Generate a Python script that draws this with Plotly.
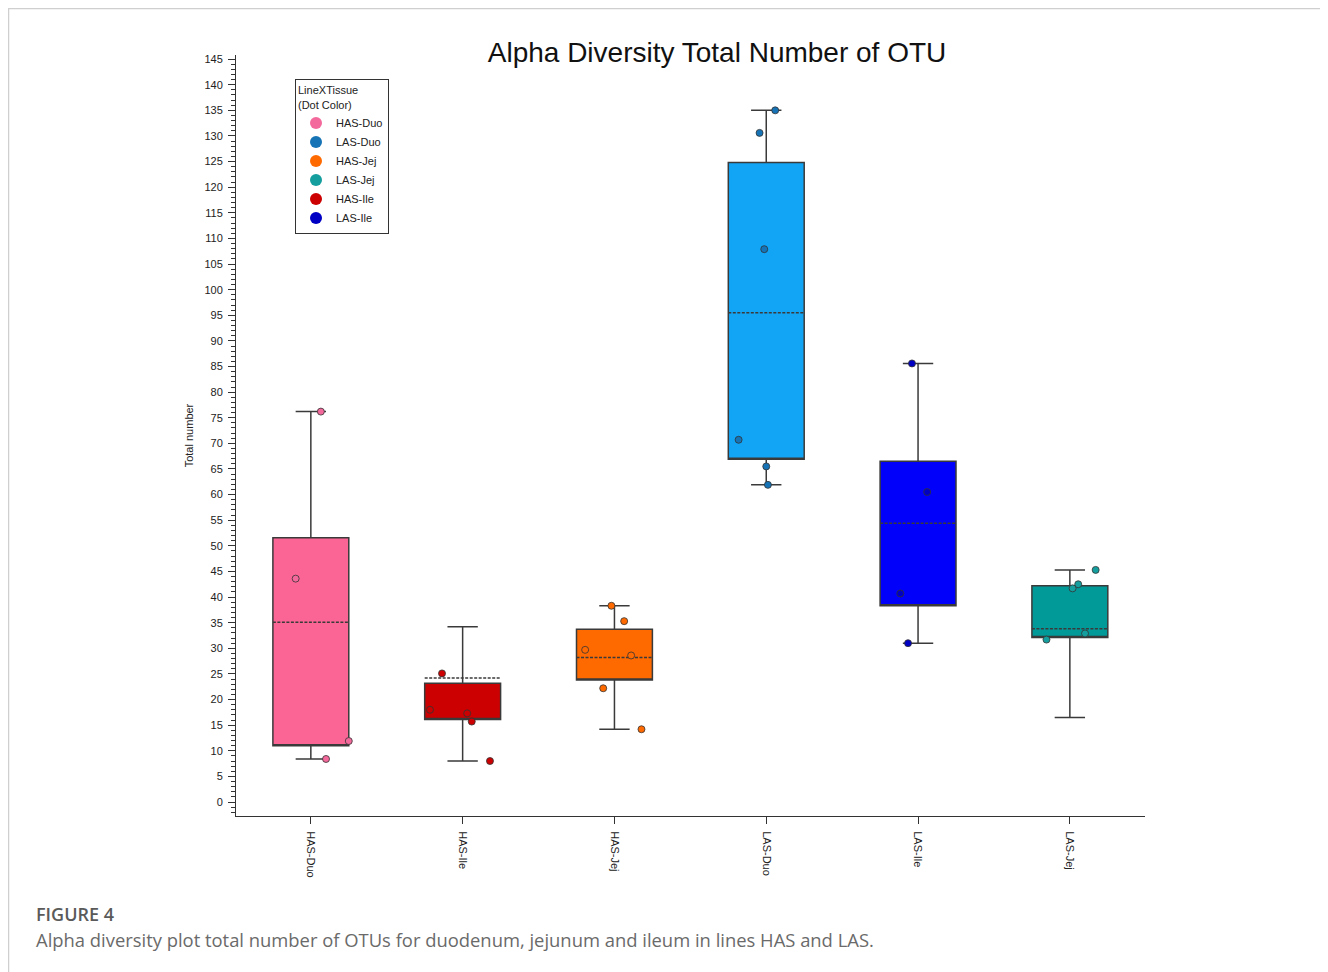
import plotly.graph_objects as go

# box statistics (dashed line = mean)
groups = ["HAS-Duo", "HAS-Ile", "HAS-Jej", "LAS-Duo", "LAS-Ile", "LAS-Jej"]
q1 = [11.0, 16.1, 23.8, 66.9, 38.3, 32.1]
q3 = [51.6, 23.2, 33.7, 124.8, 66.5, 42.2]
means = [35.1, 24.2, 28.2, 95.5, 54.4, 33.8]
whisker_low = [8.4, 8.0, 14.2, 61.9, 31.0, 16.5]
whisker_high = [76.2, 34.2, 38.3, 135.0, 85.6, 45.3]

# individual samples (y) and their horizontal jitter
dots_y = {
    "HAS-Duo": [76.2, 43.6, 11.9, 8.4],
    "HAS-Ile": [25.1, 18.0, 17.3, 15.7, 8.0],
    "HAS-Jej": [38.3, 35.3, 29.7, 28.6, 22.2, 14.2],
    "LAS-Duo": [135.0, 130.6, 107.9, 70.7, 65.5, 61.9],
    "LAS-Ile": [85.6, 60.5, 40.7, 31.0],
    "LAS-Jej": [45.3, 42.5, 41.7, 32.9, 31.7],
}
dots_jitter = {
    "HAS-Duo": [0.066, -0.10, 0.25, 0.10],
    "HAS-Ile": [-0.136, -0.215, 0.03, 0.06, 0.18],
    "HAS-Jej": [-0.02, 0.064, -0.193, 0.11, -0.074, 0.178],
    "LAS-Duo": [0.059, -0.044, -0.013, -0.182, 0.0, 0.011],
    "LAS-Ile": [-0.04, 0.06, -0.117, -0.066],
    "LAS-Jej": [0.17, 0.055, 0.018, 0.10, -0.154],
}
legend_order = ["HAS-Duo", "LAS-Duo", "HAS-Jej", "LAS-Jej", "HAS-Ile", "LAS-Ile"]

box_colors = {
    "HAS-Duo": "#fb6595", "HAS-Ile": "#cc0000", "HAS-Jej": "#ff6a00",
    "LAS-Duo": "#12a5f6", "LAS-Ile": "#0000fb", "LAS-Jej": "#029999",
}
dot_colors = {
    "HAS-Duo": "#f4699b", "HAS-Ile": "#cc0000", "HAS-Jej": "#ff6a00",
    "LAS-Duo": "#1673b5", "LAS-Ile": "#0000c4", "LAS-Jej": "#159e9e",
}

FONT = "Liberation Sans, Arial, sans-serif"
OFF = 8  # page body margin of the browser


def px_x(px):
    return (px - 236) / 909


def px_y(py):
    return (816 - py) / 761


fig = go.Figure()

for i, g in enumerate(groups):
    fig.add_trace(go.Box(
        x=[i], q1=[q1[i]], median=[q1[i]], q3=[q3[i]], mean=[means[i]],
        lowerfence=[whisker_low[i]], upperfence=[whisker_high[i]],
        boxmean=True, boxpoints=False, width=0.5, whiskerwidth=0.4,
        fillcolor=box_colors[g], line=dict(color="#3a3a3a", width=1.5),
        showlegend=False, hoverinfo="skip",
    ))

for i, g in enumerate(groups):
    fig.add_trace(go.Scatter(
        x=[i + j for j in dots_jitter[g]], y=dots_y[g], mode="markers",
        marker=dict(size=7, color=dot_colors[g], line=dict(color="#333333", width=0.8)),
        showlegend=False, name=g,
    ))

# legend entries (plain dots)
for g in legend_order:
    fig.add_trace(go.Scatter(
        x=[None], y=[None], mode="markers", name=g,
        marker=dict(size=8, color=dot_colors[g]),
    ))

# page frame and caption
fig.add_shape(type="rect", xref="paper", yref="paper",
              x0=px_x(OFF + 0.5), x1=px_x(1326.5),
              y0=px_y(1000), y1=px_y(OFF + 0.5),
              line=dict(color="#cfcfcf", width=1.5), layer="below")
fig.add_annotation(text="FIGURE 4", xref="paper", yref="paper",
                   x=px_x(34), y=px_y(914), xanchor="left", yanchor="middle",
                   showarrow=False,
                   font=dict(family="Open Sans", size=18, weight=600, color="#5a5a5a"))
fig.add_annotation(text="Alpha diversity plot total number of OTUs for duodenum, jejunum and ileum in lines HAS and LAS.",
                   xref="paper", yref="paper",
                   x=px_x(34), y=px_y(939), xanchor="left", yanchor="middle",
                   showarrow=False, font=dict(family="Open Sans", size=18.4, color="#6a6a6a"))

fig.update_layout(
    width=1328 - OFF, height=972 - OFF,
    margin=dict(l=236 - OFF, r=1328 - 1145, t=55 - OFF, b=972 - 816),
    paper_bgcolor="white", plot_bgcolor="white",
    boxmode="overlay",
    font=dict(family=FONT, size=11, color="#222222"),
    title=dict(text="Alpha Diversity Total Number of OTU", x=(717 - OFF) / (1328 - OFF), xref="container",
               xanchor="center", y=1 - (52 - OFF) / (972 - OFF), yref="container", yanchor="middle",
               font=dict(family=FONT, size=28, color="#111111")),
    legend=dict(
        title=dict(text="LineXTissue<br>(Dot Color)", font=dict(size=11)),
        x=px_x(295), y=px_y(79), xanchor="left", yanchor="top",
        bordercolor="#333333", borderwidth=1, bgcolor="white",
        font=dict(size=11), itemsizing="constant", itemwidth=30,
    ),
    xaxis=dict(
        range=[-0.493, 5.495], tickmode="array", tickvals=list(range(len(groups))),
        ticktext=groups, tickangle=90, ticks="outside", ticklen=7, tickcolor="#333333",
        showline=True, linecolor="#333333", linewidth=1, showgrid=False, zeroline=False,
        tickfont=dict(size=11), ticklabelstandoff=5,
    ),
    yaxis=dict(
        title=dict(text="Total number", font=dict(size=11), standoff=8),
        range=[-2.73, 145.8], tick0=0, dtick=5, ticks="outside", ticklen=7,
        tickcolor="#333333", showline=True, linecolor="#333333", linewidth=1,
        showgrid=False, zeroline=False, tickfont=dict(size=11), ticklabelstandoff=3,
        minor=dict(dtick=1, ticks="outside", ticklen=4, tickcolor="#333333"),
    ),
)

fig.write_html("out.html")
